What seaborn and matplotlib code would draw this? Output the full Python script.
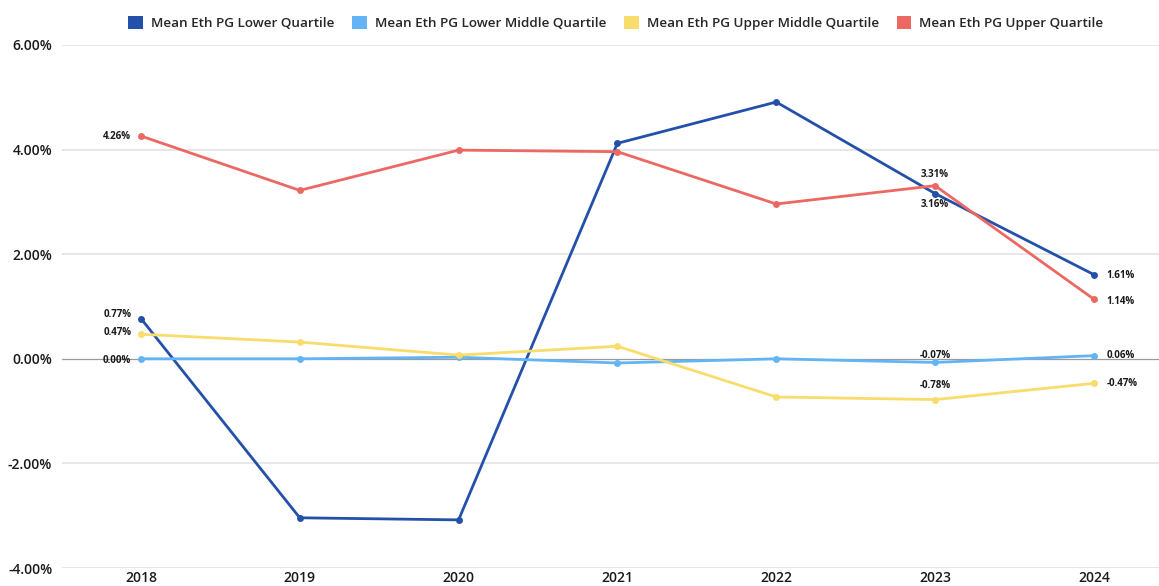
import matplotlib
matplotlib.use("Agg")
import matplotlib.pyplot as plt
from matplotlib.patches import Patch
from matplotlib.ticker import FuncFormatter
import seaborn as sns
import pandas as pd

years = [2018, 2019, 2020, 2021, 2022, 2023, 2024]
series_names = [
    "Mean Eth PG Lower Quartile",
    "Mean Eth PG Lower Middle Quartile",
    "Mean Eth PG Upper Middle Quartile",
    "Mean Eth PG Upper Quartile",
]
lower_q = [0.77, -3.04, -3.08, 4.12, 4.91, 3.16, 1.61]
lower_mid_q = [0.00, 0.00, 0.03, -0.08, 0.00, -0.07, 0.06]
upper_mid_q = [0.47, 0.32, 0.07, 0.24, -0.73, -0.78, -0.47]
upper_q = [4.26, 3.22, 3.99, 3.96, 2.96, 3.31, 1.14]
colors = ["#2350a8", "#62b4f5", "#f8dc6c", "#ec6863"]

values = [lower_q, lower_mid_q, upper_mid_q, upper_q]
df = pd.DataFrame(
    [(y, name, v) for name, vals in zip(series_names, values) for y, v in zip(years, vals)],
    columns=["Year", "Series", "Value"],
)

sns.set_theme(style="white")
plt.rcParams["font.family"] = ["Open Sans", "DejaVu Sans"]

fig = plt.figure(figsize=(11.59, 5.86), dpi=100)
ax = fig.add_axes([62 / 1159, 18 / 586, 1 - 62 / 1159, (568 - 45) / 586])

for y in [-4, -2, 2, 4, 6]:
    ax.axhline(y, color="#e3e3e3", lw=1.2, zorder=0)
ax.axhline(0, color="#9a9a9a", lw=0.9, zorder=0)

sns.lineplot(
    data=df, x="Year", y="Value", hue="Series", hue_order=series_names,
    palette=dict(zip(series_names, colors)), marker="o", markersize=5,
    markeredgewidth=0, linewidth=2, legend=False, ax=ax, zorder=3,
)

ax.set_xlim(2017.503, 2024.41)
ax.set_ylim(-4, 6)
ax.set_xticks(years)
ax.set_yticks([-4, -2, 0, 2, 4, 6])
ax.yaxis.set_major_formatter(FuncFormatter(lambda v, _: f"{v:.2f}%"))
ax.set_xlabel("")
ax.set_ylabel("")
for s in ax.spines.values():
    s.set_visible(False)
ax.tick_params(axis="both", length=0, labelsize=10, colors="#1a1a1a")
ax.tick_params(axis="y", pad=7)
ax.tick_params(axis="x", pad=2)
for lbl in ax.get_xticklabels() + ax.get_yticklabels():
    lbl.set_fontweight("semibold")

lbl_kw = dict(fontsize=7, fontweight="bold", color="#1a1a1a", zorder=5)

def label(series, idx, dx, dy, ha="center", va="center"):
    v = values[series][idx]
    ax.annotate(f"{v:.2f}%", (years[idx], v), xytext=(dx, dy),
                textcoords="offset points", ha=ha, va=va, **lbl_kw)

# first year: labels to the left
label(3, 0, -7, 0, ha="right")
label(0, 0, -7, 3, ha="right")
label(2, 0, -7, 1, ha="right")
label(1, 0, -7, -1, ha="right")
# 2023: above / below
label(3, 5, 0, 8)
label(0, 5, 0, -8)
label(1, 5, 0, 5)
label(2, 5, 0, 10)
# last year: labels to the right
for s, dy in zip(range(4), [-1, 0, 0, -2]):
    label(s, 6, 9, dy, ha="left")

handles = [Patch(facecolor=c, edgecolor="none") for c in colors]
fig.legend(handles, series_names, loc="center", bbox_to_anchor=(616 / 1159, 1 - 23 / 586),
           ncol=4, frameon=False, handlelength=1.1, handleheight=1.1, handletextpad=0.6,
           columnspacing=1.3, prop={"size": 9.7, "weight": "semibold"})

fig.savefig("out.png", dpi=100)
